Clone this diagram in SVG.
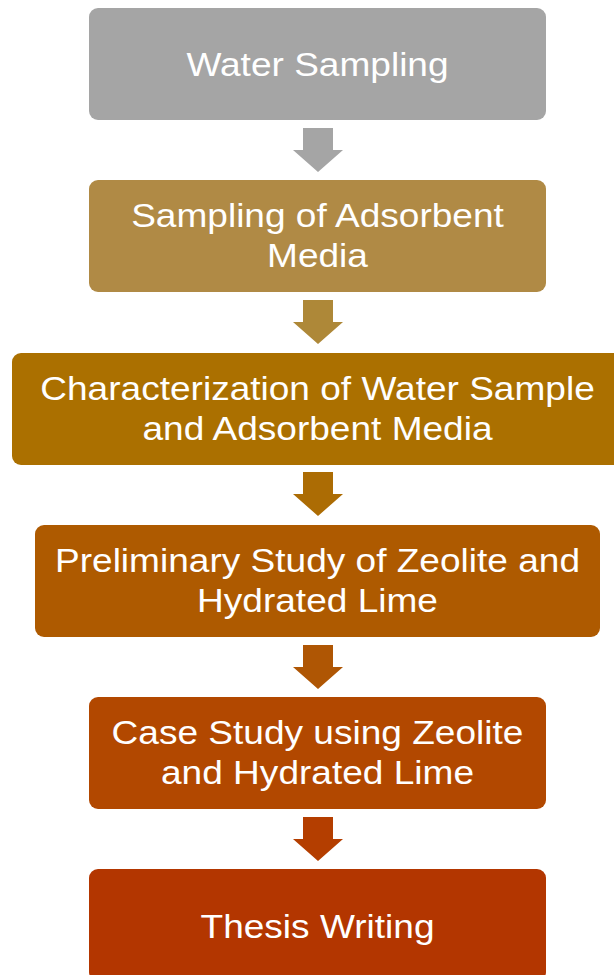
<svg xmlns="http://www.w3.org/2000/svg" width="614" height="975" viewBox="0 0 614 975">
<style>
.t{font-family:"Liberation Sans",Arial,sans-serif;font-size:34px;fill:#ffffff;text-anchor:middle}
</style>
<rect width="614" height="975" fill="#ffffff"/>
<g id="connectors">
<path d="M303,128H333V150H343L318,172L293,150H303Z" fill="#a5a5a5"/>
<path d="M303,300H333V322H343L318,344L293,322H303Z" fill="#ae8838"/>
<path d="M303,472H333V494H343L318,516L293,494H303Z" fill="#ac6c04"/>
<path d="M303,645H333V667H343L318,689L293,667H303Z" fill="#af5604"/>
<path d="M303,817H333V839H343L318,861L293,839H303Z" fill="#b43e00"/>
</g>
<g id="n1">
<rect x="89" y="8" width="457" height="112" rx="9" fill="#a5a5a5"/>
<g transform="translate(317.5,0) scale(1.09,1)"><text class="t" x="0" y="76">Water Sampling</text></g>
</g>
<g id="n2">
<rect x="89" y="180" width="457" height="112" rx="9" fill="#b08a45"/>
<g transform="translate(317.5,0) scale(1.09,1)"><text class="t" x="0" y="227">Sampling of Adsorbent</text><text class="t" x="0" y="267">Media</text></g>
</g>
<g id="n3">
<rect x="12" y="353" width="612" height="112" rx="9" fill="#ab7000"/>
<g transform="translate(317.5,0) scale(1.09,1)"><text class="t" x="0" y="400">Characterization of Water Sample</text><text class="t" x="0" y="440">and Adsorbent Media</text></g>
</g>
<g id="n4">
<rect x="35" y="525" width="565" height="112" rx="9" fill="#ae5a00"/>
<g transform="translate(317.5,0) scale(1.09,1)"><text class="t" x="0" y="572">Preliminary Study of Zeolite and</text><text class="t" x="0" y="612">Hydrated Lime</text></g>
</g>
<g id="n5">
<rect x="89" y="697" width="457" height="112" rx="9" fill="#b24800"/>
<g transform="translate(317.5,0) scale(1.09,1)"><text class="t" x="0" y="744">Case Study using Zeolite</text><text class="t" x="0" y="784">and Hydrated Lime</text></g>
</g>
<g id="n6">
<rect x="89" y="869" width="457" height="112" rx="9" fill="#b33600"/>
<g transform="translate(317.5,0) scale(1.09,1)"><text class="t" x="0" y="938">Thesis Writing</text></g>
</g>
</svg>
